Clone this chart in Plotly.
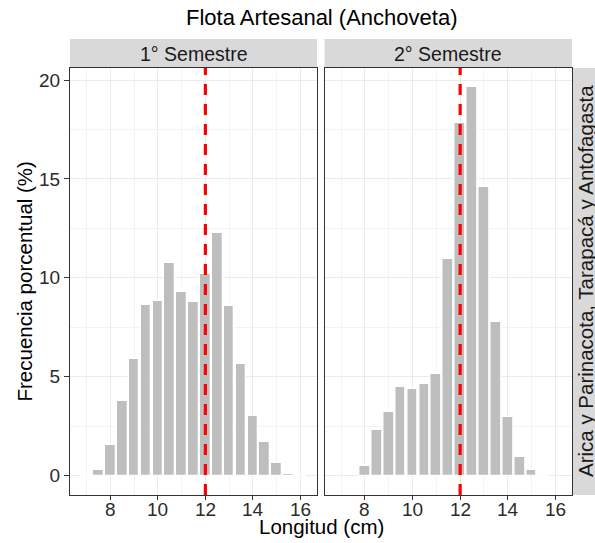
import plotly.graph_objects as go

# ---- data ----
lengths_s1 = [7.0, 7.5, 8.0, 8.5, 9.0, 9.5, 10.0, 10.5, 11.0, 11.5, 12.0, 12.5,
              13.0, 13.5, 14.0, 14.5, 15.0, 15.5, 16.0]
freq_s1 = [0.03, 0.30, 1.54, 3.75, 5.90, 8.63, 8.82, 10.73, 9.29, 8.78, 10.19, 12.26,
           8.58, 5.63, 3.02, 1.69, 0.63, 0.10, 0.05]
lengths_s2 = [8.0, 8.5, 9.0, 9.5, 10.0, 10.5, 11.0, 11.5, 12.0, 12.5,
              13.0, 13.5, 14.0, 14.5, 15.0, 15.5]
freq_s2 = [0.51, 2.33, 3.24, 4.50, 4.40, 4.65, 5.16, 10.93, 17.82, 19.63,
           14.57, 7.77, 2.98, 0.93, 0.30, 0.05]
panel_labels = ["1° Semestre", "2° Semestre"]
row_label = "Arica y Parinacota, Tarapacá y Antofagasta"
title = "Flota Artesanal (Anchoveta)"
x_title = "Longitud (cm)"
y_title = "Frecuencia porcentual (%)"
ref_length = 12
x_ticks = [8, 10, 12, 14, 16]
x_tick_labels = ["8", "10", "12", "14", "16"]
y_ticks = [0, 5, 10, 15, 20]

W, H = 595, 543
FONT = "Liberation Sans, Arial, sans-serif"


def fx(px):
    return px / W


def fy(py):
    return 1 - py / H


P1 = (70, 317)
P2 = (324.5, 572)
PT, PB = 68, 495

bar_color = "#BEBEBE"

fig = go.Figure()
fig.add_bar(x=lengths_s1, y=freq_s1, xaxis="x", yaxis="y", width=0.45,
            marker=dict(color=bar_color, line=dict(color="white", width=1.3)),
            showlegend=False, hoverinfo="x+y")
fig.add_bar(x=lengths_s2, y=freq_s2, xaxis="x2", yaxis="y2", width=0.45,
            marker=dict(color=bar_color, line=dict(color="white", width=1.3)),
            showlegend=False, hoverinfo="x+y")

# x range from ggplot-like expansion
all_x = lengths_s1 + lengths_s2
xmin, xmax = min(all_x) - 0.225, max(all_x) + 0.225
xpad = (xmax - xmin) * 0.05
xr = [xmin - xpad, xmax + xpad]
ymax = max(freq_s1 + freq_s2)
ypad = ymax * 0.05
yr = [-ypad, ymax + ypad]

grid_major = "#EBEBEB"
grid_minor = "#F3F3F3"
tickfont = dict(family=FONT, size=19, color="#2B2B2B")

common_x = dict(range=xr, tickvals=x_ticks, ticks="outside", ticklen=4, tickwidth=1,
                tickcolor="#333333", showgrid=True, gridcolor=grid_major, gridwidth=1.1,
                minor=dict(tickvals=[7, 9, 11, 13, 15], showgrid=True,
                           gridcolor=grid_minor, gridwidth=0.6, ticks=""),
                showline=True, mirror=True, linecolor="#333333", linewidth=1.1,
                zeroline=False, showticklabels=False, fixedrange=True)
common_y = dict(range=yr, tickvals=y_ticks, ticks="outside", ticklen=5, tickwidth=1,
                tickcolor="#333333", showgrid=True, gridcolor=grid_major, gridwidth=1.1,
                minor=dict(tickvals=[2.5, 7.5, 12.5, 17.5], showgrid=True,
                           gridcolor=grid_minor, gridwidth=0.6, ticks=""),
                showline=True, mirror=True, linecolor="#333333", linewidth=1.1,
                zeroline=False, tickfont=tickfont, fixedrange=True,
                domain=[fy(PB), fy(PT)])

fig.update_layout(
    width=W, height=H,
    margin=dict(l=0, r=0, t=0, b=0),
    paper_bgcolor="white", plot_bgcolor="white",
    bargap=0,
    xaxis=dict(common_x, domain=[fx(P1[0]), fx(P1[1])], anchor="y"),
    xaxis2=dict(common_x, domain=[fx(P2[0]), fx(P2[1])], anchor="y2"),
    yaxis=dict(common_y, anchor="x"),
    yaxis2=dict(common_y, anchor="x2", showticklabels=False, ticks=""),
    font=dict(family=FONT, color="#1A1A1A"),
)

shapes = []
annotations = []
# reference dashed lines
for xa, ya in [("x", "y"), ("x2", "y2")]:
    shapes.append(dict(type="line", xref=xa, yref=ya + " domain", x0=ref_length, x1=ref_length,
                       y0=0, y1=1, line=dict(color="#FF0000", width=3.2, dash="11px,9px"),
                       layer="above"))

# x tick labels (placed on each panel's x scale)
for xa in ["x", "x2"]:
    for v, lab in zip(x_ticks, x_tick_labels):
        annotations.append(dict(text=lab, xref=xa, yref="paper", x=v, y=fy(509.5),
                                showarrow=False, xanchor="center", yanchor="middle",
                                font=tickfont))

# top strips
for (l, r), lab in zip([P1, P2], panel_labels):
    shapes.append(dict(type="rect", xref="paper", yref="paper", x0=fx(l), x1=fx(r),
                       y0=fy(PT), y1=fy(39), fillcolor="#D9D9D9", line=dict(width=0),
                       layer="below"))
    annotations.append(dict(text=lab, xref="paper", yref="paper", x=fx((l + r) / 2),
                            y=fy(53.5), showarrow=False, xanchor="center", yanchor="middle",
                            font=dict(family=FONT, size=19.5, color="#1A1A1A")))
# right strip
shapes.append(dict(type="rect", xref="paper", yref="paper", x0=fx(573), x1=fx(604),
                   y0=fy(PB), y1=fy(PT), fillcolor="#D9D9D9", line=dict(width=0),
                   layer="below"))
annotations.append(dict(text=row_label, xref="paper", yref="paper", x=fx(585.5),
                        y=fy((PT + PB) / 2), showarrow=False, textangle=-90,
                        xanchor="center", yanchor="middle",
                        font=dict(family=FONT, size=20.5, color="#1A1A1A")))
# title
annotations.append(dict(text=title, xref="paper", yref="paper", x=fx(321), y=fy(17),
                        showarrow=False, xanchor="center", yanchor="middle",
                        font=dict(family=FONT, size=22, color="#000000")))
# axis titles
annotations.append(dict(text=x_title, xref="paper", yref="paper", x=fx((P1[0] + P2[1]) / 2),
                        y=fy(526.5), showarrow=False, xanchor="center", yanchor="middle",
                        font=dict(family=FONT, size=20.5, color="#000000")))
annotations.append(dict(text=y_title, xref="paper", yref="paper", x=fx(24),
                        y=fy((PT + PB) / 2), showarrow=False, textangle=-90,
                        xanchor="center", yanchor="middle",
                        font=dict(family=FONT, size=20.5, color="#000000")))

fig.update_layout(shapes=shapes, annotations=annotations)
fig.write_html("out.html")
